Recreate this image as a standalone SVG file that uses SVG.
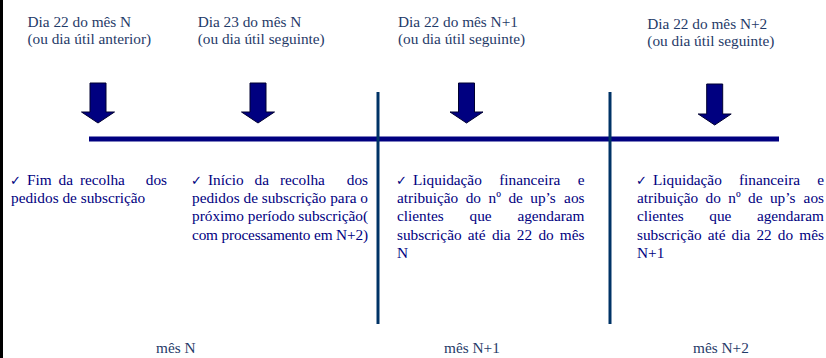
<svg xmlns="http://www.w3.org/2000/svg" width="826" height="358" viewBox="0 0 826 358">
<style>
.hd{font-family:'Liberation Serif','DejaVu Serif','Times New Roman',Times,serif;font-size:15.3px;fill:#1F3A68}
.bd{font-family:'Liberation Serif','DejaVu Serif','Times New Roman',Times,serif;font-size:15.3px;fill:#000080}
.ck{font-family:'DejaVu Sans',sans-serif;font-size:13px;fill:#000080}
.e{text-anchor:end}
.arr{fill:#000080;stroke:#000030;stroke-width:1}
.sep{stroke:#003366;stroke-width:3}
</style>
<rect x="0" y="0" width="826" height="358" fill="#ffffff"/>
<rect x="0" y="0" width="3" height="358" fill="#000000"/>

<g id="connectors">
<line id="timeline" x1="89" y1="139" x2="779" y2="139" stroke="#000080" stroke-width="5"/>
<line class="sep" x1="378" y1="92" x2="378" y2="324"/>
<line class="sep" x1="610" y1="92" x2="610" y2="324"/>
</g>

<g id="arrows">
<polygon class="arr" points="90,83 106,83 106,112 114.5,112 98,123 81.5,112 90,112"/>
<polygon class="arr" points="250,83 266,83 266,112 274.5,112 258,123 241.5,112 250,112"/>
<polygon class="arr" points="458.5,83 474.5,83 474.5,112 483,112 466.5,123 450,112 458.5,112"/>
<polygon class="arr" points="706.7,84 722.7,84 722.7,114 731.2,114 714.7,125 698.2,114 706.7,114"/>
</g>

<g id="node-n22">
<text class="hd" font-family="Liberation Serif, serif" x="27.5" y="27">Dia 22 do mês N</text>
<text class="hd" font-family="Liberation Serif, serif" x="27.5" y="44">(ou dia útil anterior)</text>
<text class="ck" x="10" y="185">✓</text>
<text class="bd" y="185"><tspan x="27">Fim</tspan><tspan x="58.6">da</tspan><tspan x="79.9">recolha</tspan><tspan class="e" x="167">dos</tspan></text>
<text class="bd" x="11" y="203.2">pedidos de subscrição</text>
</g>

<g id="node-n23">
<text class="hd" x="197.7" y="27">Dia 23 do mês N</text>
<text class="hd" x="197.7" y="44">(ou dia útil seguinte)</text>
<text class="ck" x="191" y="185">✓</text>
<text class="bd" y="185"><tspan x="208">Início</tspan><tspan x="254.6">da</tspan><tspan x="279.9">recolha</tspan><tspan class="e" x="368">dos</tspan></text>
<text class="bd" y="203.2"><tspan x="192">pedidos</tspan><tspan x="243.5">de</tspan><tspan x="261.7">subscrição</tspan><tspan x="330.2">para</tspan><tspan class="e" x="368">o</tspan></text>
<text class="bd" y="221.4"><tspan x="192">próximo</tspan><tspan x="247.8">período</tspan><tspan class="e" x="368">subscrição(</tspan></text>
<text class="bd" x="192" y="239.6" textLength="176" lengthAdjust="spacing">com processamento em N+2)</text>
</g>

<g id="node-n1">
<text class="hd" x="398" y="27">Dia 22 do mês N+1</text>
<text class="hd" x="398" y="44">(ou dia útil seguinte)</text>
<text class="ck" x="396" y="185">✓</text>
<text class="bd" y="185"><tspan x="413">Liquidação</tspan><tspan x="499.2">financeira</tspan><tspan class="e" x="584.5">e</tspan></text>
<text class="bd" y="203.2"><tspan x="397">atribuição</tspan><tspan x="465.7">do</tspan><tspan x="488.5">nº</tspan><tspan x="508.4">de</tspan><tspan x="530.3">up’s</tspan><tspan class="e" x="584.5">aos</tspan></text>
<text class="bd" y="221.4"><tspan x="397">clientes</tspan><tspan x="469.5">que</tspan><tspan class="e" x="584.5">agendaram</tspan></text>
<text class="bd" y="239.6"><tspan x="397">subscrição</tspan><tspan x="467.8">até</tspan><tspan x="491.9">dia</tspan><tspan x="516.8">22</tspan><tspan x="538.4">do</tspan><tspan class="e" x="584.5">mês</tspan></text>
<text class="bd" x="397" y="257.8">N</text>
</g>

<g id="node-n2">
<text class="hd" x="647.3" y="29">Dia 22 do mês N+2</text>
<text class="hd" x="647.3" y="46">(ou dia útil seguinte)</text>
<text class="ck" x="636" y="185">✓</text>
<text class="bd" y="185"><tspan x="653">Liquidação</tspan><tspan x="738.9">financeira</tspan><tspan class="e" x="824">e</tspan></text>
<text class="bd" y="203.2"><tspan x="637">atribuição</tspan><tspan x="705.6">do</tspan><tspan x="728.3">nº</tspan><tspan x="748.1">de</tspan><tspan x="769.9">up’s</tspan><tspan class="e" x="824">aos</tspan></text>
<text class="bd" y="221.4"><tspan x="637">clientes</tspan><tspan x="709.3">que</tspan><tspan class="e" x="824">agendaram</tspan></text>
<text class="bd" y="239.6"><tspan x="637">subscrição</tspan><tspan x="707.7">até</tspan><tspan x="731.6">dia</tspan><tspan x="756.4">22</tspan><tspan x="777.8">do</tspan><tspan class="e" x="824">mês</tspan></text>
<text class="bd" x="637" y="257.8">N+1</text>
</g>

<g id="month-labels">
<text class="hd" x="156" y="353">mês N</text>
<text class="hd" x="444" y="353">mês N+1</text>
<text class="hd" x="693" y="353">mês N+2</text>
</g>
</svg>
